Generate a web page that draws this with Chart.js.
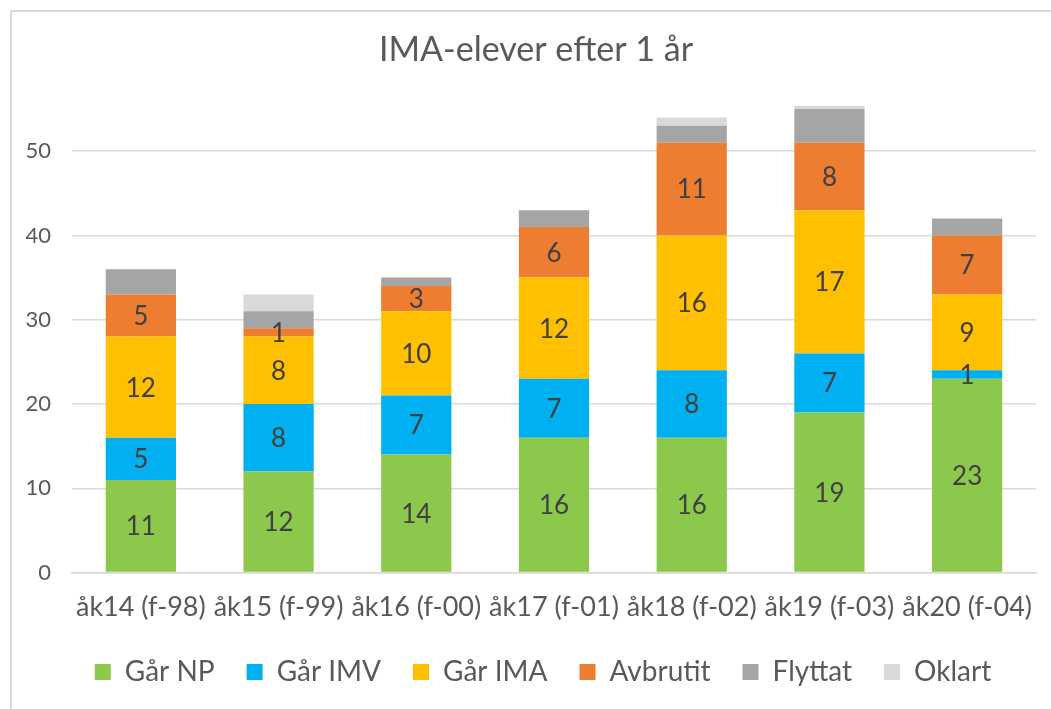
<!DOCTYPE html>
<html>
<head>
<meta charset="utf-8">
<script src="https://cdn.jsdelivr.net/npm/chart.js@4.4.1/dist/chart.umd.min.js"></script>
<style>
  html, body { margin: 0; padding: 0; background: #fff; }
  #wrap { position: relative; width: 1051px; height: 709px; overflow: hidden; }
  #frame { position: absolute; left: 10px; top: 10px; right: -10px; bottom: -10px;
           border-left: 2px solid #d9d9d9; border-top: 2px solid #d9d9d9; pointer-events: none; }
  canvas { position: absolute; left: 0; top: 0; }
</style>
</head>
<body>
<div id="wrap">
  <canvas id="c" width="1051" height="709"></canvas>
  <div id="frame"></div>
</div>
<script>
const categories = ["åk14 (f-98)", "åk15 (f-99)", "åk16 (f-00)", "åk17 (f-01)", "åk18 (f-02)", "åk19 (f-03)", "åk20 (f-04)"];
const garNP    = [11, 12, 14, 16, 16, 19, 23];
const garIMV   = [5, 8, 7, 7, 8, 7, 1];
const garIMA   = [12, 8, 10, 12, 16, 17, 9];
const avbrutit = [5, 1, 3, 6, 11, 8, 7];
const flyttat  = [3, 2, 1, 2, 2, 4, 2];
const oklart   = [0, 2, 0, 0, 1, 0.4, 0];
const seriesNames = ["Går NP", "Går IMV", "Går IMA", "Avbrutit", "Flyttat", "Oklart"];
const yTicks = [0, 10, 20, 30, 40, 50];
const labelledSeries = 4;

const colors = ["#8CC84B", "#00B0F0", "#FFC000", "#ED7D31", "#A5A5A5", "#D9D9D9"];
const seriesData = [garNP, garIMV, garIMA, avbrutit, flyttat, oklart];

const FONT = "Lato, 'Open Sans', 'Noto Sans', sans-serif";

const valueLabels = {
  id: 'valueLabels',
  afterDatasetsDraw(chart) {
    const ctx = chart.ctx;
    ctx.save();
    ctx.font = "26px " + FONT;
    ctx.fillStyle = "#404040";
    ctx.textAlign = "center";
    ctx.textBaseline = "middle";
    for (let i = 0; i < labelledSeries; i++) {
      const meta = chart.getDatasetMeta(i);
      const data = chart.data.datasets[i].data;
      meta.data.forEach((bar, j) => {
        const v = data[j];
        if (!v) return;
        const p = bar.getProps(['x', 'y', 'base'], true);
        ctx.fillText(String(v), p.x, (p.y + p.base) / 2 + 1);
      });
    }
    ctx.restore();
  }
};

// nudge the title and legend blocks to sit where the reference's sit
const blockNudge = {
  id: 'blockNudge',
  afterLayout(chart) {
    const lg = chart.legend;
    if (lg) { lg.top -= 7; lg.bottom -= 7; lg.left += 20; lg.right += 20; }
    const tb = chart.titleBlock;
    if (tb) { tb.left += 13; tb.right += 13; }
  }
};

new Chart(document.getElementById('c'), {
  type: 'bar',
  data: {
    labels: categories,
    datasets: seriesData.map((d, i) => ({
      label: seriesNames[i],
      data: d,
      backgroundColor: colors[i],
      borderWidth: 0,
      categoryPercentage: 1.0,
      barPercentage: 0.51
    }))
  },
  options: {
    responsive: false,
    animation: false,
    layout: { padding: { left: 10, right: 15, top: 0, bottom: 6 } },
    plugins: {
      tooltip: { enabled: false },
      title: {
        display: true,
        text: "IMA-elever efter 1 år",
        color: "#595959",
        font: { family: FONT, size: 34, weight: 'normal' },
        padding: { top: 30, bottom: 34 }
      },
      legend: {
        position: 'bottom',
        labels: {
          color: "#595959",
          font: { family: FONT, size: 28 },
          boxWidth: 16,
          boxHeight: 16,
          padding: 32
        }
      }
    },
    scales: {
      x: {
        stacked: true,
        grid: { display: false },
        border: { display: true, color: "#d9d9d9", width: 1.5 },
        ticks: { color: "#595959", font: { family: FONT, size: 27 }, padding: 10, maxRotation: 0, autoSkip: false }
      },
      y: {
        stacked: true,
        min: 0,
        max: 55.5,
        border: { display: false },
        grid: { color: "#d9d9d9", lineWidth: 1.5, drawTicks: false },
        ticks: { color: "#595959", font: { family: FONT, size: 22 }, padding: 21, stepSize: 10 },
        afterBuildTicks(scale) {
          scale.ticks = yTicks.map(v => ({ value: v }));
        },
        afterFit(scale) { scale.width = 62; }
      }
    }
  },
  plugins: [valueLabels, blockNudge]
});
</script>
</body>
</html>
